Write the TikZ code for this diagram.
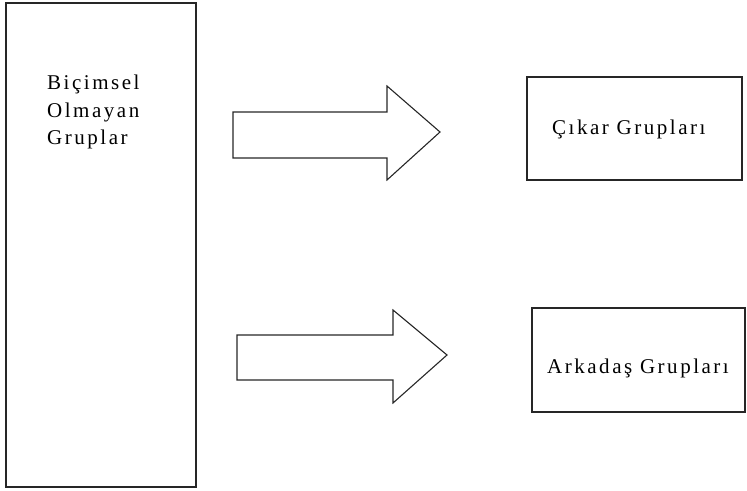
\documentclass[tikz,border=0pt]{standalone}
\usepackage{fontspec}
\setmainfont{Liberation Serif}
\newfontfamily\spaced[LetterSpace=12]{Liberation Serif}
\begin{document}
\begin{tikzpicture}[x=1pt,y=-1pt,
  frame/.style={draw=black!85,line width=1.1pt},
  label/.style={anchor=base west,inner sep=0pt,font=\spaced\fontsize{21}{25}\selectfont}]
\useasboundingbox (0,0) rectangle (747,490);
% tall box on the left
\draw[frame] (6,3) rectangle (196,487);
\node[label] (t1) at (47,89) {Biçimsel};
\node[label] (t2) at (47,117) {Olmayan};
\node[label] (t3) at (47,144) {Gruplar};
% block arrows
\draw[frame,line join=miter] (233,112) -- (387,112) -- (387,86) -- (440,132)
  -- (387,180) -- (387,158) -- (233,158) -- cycle;
\draw[frame,line join=miter] (237,335) -- (393,335) -- (393,310) -- (447,355)
  -- (393,403) -- (393,380) -- (237,380) -- cycle;
% boxes on the right
\draw[frame] (527,77) rectangle (742,180);
\node[label] (c) at (552,134) {Çıkar Grupları};
\draw[frame] (532,308) rectangle (745,412);
\node[label] (a) at (547,373) {Arkadaş Grupları};
\end{tikzpicture}
\end{document}
